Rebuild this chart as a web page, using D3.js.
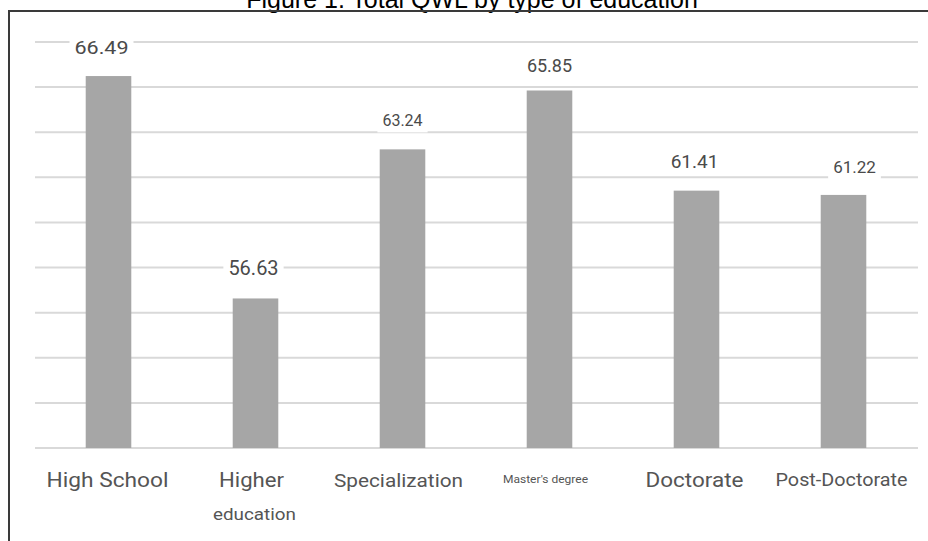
<!DOCTYPE html>
<html>
<head>
<meta charset="utf-8">
<script src="https://cdn.jsdelivr.net/npm/d3@7/dist/d3.min.js"></script>
<style>
  html, body { margin: 0; padding: 0; background: #fff; }
  svg { display: block; }
</style>
</head>
<body>
<svg id="chart" width="928" height="541"></svg>
<script>
// Education categories and total QWL score for each
const categories = ["High School", "Higher education", "Specialization", "Master's degree", "Doctorate", "Post-Doctorate"];
const qwlValues = [66.49, 56.63, 63.24, 65.85, 61.41, 61.22];
const valueLabels = ["66.49", "56.63", "63.24", "65.85", "61.41", "61.22"];
const yTicks = [50, 52, 54, 56, 58, 60, 62, 64, 66, 68];
const titleText = "Figure 1. Total QWL by type of education";

// Per-label typography: each label was typeset at its own size and width
const valueStyle = [
  { size: 17.5, dx: -7, dy: -22, len: 54 },
  { size: 20, dx: -2, dy: -23, len: null },
  { size: 16, dx: 0,  dy: -23, len: null },
  { size: 18, dx: 0,  dy: -18, len: null },
  { size: 19, dx: -2, dy: -23, len: null },
  { size: 17, dx: 11, dy: -22, len: null }
];
const catStyle = [
  { size: 19.5, dx: -1, dy: 0, len: 122 },
  { size: 19.5, dx: -4, dy: 0, len: 65 },
  { size: 18.5, dx: -4, dy: 0, len: 129 },
  { size: 11, dx: -4, dy: -4, len: 85 },
  { size: 20, dx: -2, dy: 0, len: 98 },
  { size: 18, dx: -2, dy: -1, len: 132 }
];

const svg = d3.select("#chart");

const x = d3.scaleBand()
  .domain(categories)
  .range([35, 917])
  .paddingInner(0.69)
  .paddingOuter(0.345);

const y = d3.scaleLinear()
  .domain([50, 68])
  .range([448, 42]);

// Title (sits above the frame, partly clipped by the page top)
svg.append("text")
  .attr("x", 472)
  .attr("y", 8)
  .attr("text-anchor", "middle")
  .attr("font-family", "'Liberation Sans', Arial, sans-serif")
  .attr("font-size", 25)
  .attr("fill", "#000")
  .text(titleText);

// Horizontal gridlines
svg.append("g")
  .selectAll("line")
  .data(yTicks)
  .join("line")
  .attr("x1", 35)
  .attr("x2", 918)
  .attr("y1", d => y(d))
  .attr("y2", d => y(d))
  .attr("stroke", "#d9d9d9")
  .attr("stroke-width", 2);

// Bars
svg.append("g")
  .selectAll("rect")
  .data(categories)
  .join("rect")
  .attr("x", d => x(d))
  .attr("width", x.bandwidth())
  .attr("y", (d, i) => y(qwlValues[i]))
  .attr("height", (d, i) => y(50) - y(qwlValues[i]))
  .attr("fill", "#a6a6a6");

// Value labels with a white backing that interrupts the gridline behind them
const vl = svg.append("g")
  .attr("font-family", "Roboto, 'Open Sans', sans-serif")
  .attr("fill", "#4a4a4a");

categories.forEach((c, i) => {
  const s = valueStyle[i];
  const cx = x(c) + x.bandwidth() / 2 + s.dx;
  const by = y(qwlValues[i]) + s.dy;
  const t = vl.append("text")
    .attr("x", cx)
    .attr("y", by)
    .attr("text-anchor", "middle")
    .attr("font-size", s.size)
    .text(valueLabels[i]);
  if (s.len) t.attr("textLength", s.len).attr("lengthAdjust", "spacingAndGlyphs");
  const bb = t.node().getBBox();
  vl.insert("rect", () => t.node())
    .attr("x", bb.x - 5)
    .attr("y", bb.y)
    .attr("width", bb.width + 10)
    .attr("height", bb.height + 2)
    .attr("fill", "#fff");
});

// Category labels
const cl = svg.append("g")
  .attr("font-family", "Roboto, 'Open Sans', sans-serif")
  .attr("fill", "#555");

function catText(tx, ty, size, len, str) {
  return cl.append("text")
    .attr("x", tx)
    .attr("y", ty)
    .attr("text-anchor", "middle")
    .attr("font-size", size)
    .attr("textLength", len)
    .attr("lengthAdjust", "spacingAndGlyphs")
    .text(str);
}

categories.forEach((c, i) => {
  const s = catStyle[i];
  const cx = x(c) + x.bandwidth() / 2 + s.dx;
  if (c === "Higher education") {
    catText(cx, 487, s.size, s.len, "Higher");
    catText(cx + 3, 520, 16.5, 83, "education");
  } else {
    catText(cx, 487 + s.dy, s.size, s.len, c);
  }
});

// Frame: top and left edges
svg.append("path")
  .attr("d", "M9,541 L9,11 L928,11")
  .attr("fill", "none")
  .attr("stroke", "#3a3a3a")
  .attr("stroke-width", 2);
</script>
</body>
</html>
